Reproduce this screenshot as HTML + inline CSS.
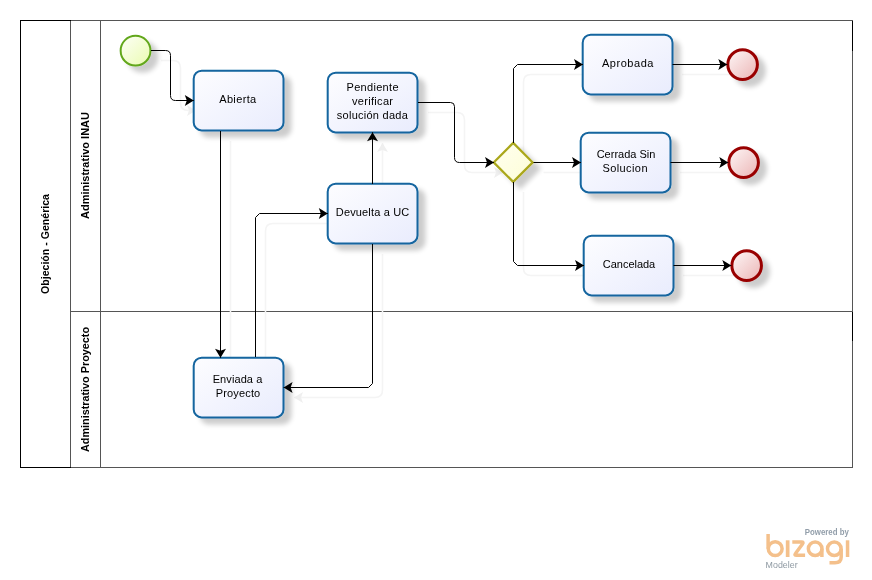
<!DOCTYPE html>
<html>
<head>
<meta charset="utf-8">
<style>
html,body{margin:0;padding:0;background:#fff;width:872px;height:580px;overflow:hidden}
svg{position:absolute;left:0;top:0;display:block;will-change:transform}
text{font-family:"Liberation Sans",sans-serif}
</style>
</head>
<body>
<svg width="872" height="580" viewBox="0 0 872 580">
<defs>
  <linearGradient id="gTask" x1="0" y1="0" x2="1" y2="1">
    <stop offset="0" stop-color="#fdfdff"/>
    <stop offset="1" stop-color="#e9ecfd"/>
  </linearGradient>
  <linearGradient id="gStart" x1="0" y1="0" x2="1" y2="1">
    <stop offset="0" stop-color="#fdfff8"/>
    <stop offset="1" stop-color="#eafbb0"/>
  </linearGradient>
  <linearGradient id="gEnd" x1="0" y1="0" x2="1" y2="1">
    <stop offset="0" stop-color="#fef8f8"/>
    <stop offset="1" stop-color="#ebb4b4"/>
  </linearGradient>
  <linearGradient id="gGw" x1="0" y1="0" x2="1" y2="1">
    <stop offset="0" stop-color="#fffff0"/>
    <stop offset="1" stop-color="#fdfdd6"/>
  </linearGradient>
  <filter id="sh" x="-30%" y="-30%" width="160%" height="160%">
    <feGaussianBlur in="SourceAlpha" stdDeviation="2.6"/>
    <feOffset dx="6.5" dy="6" result="b"/>
    <feComponentTransfer><feFuncA type="linear" slope="0.2"/></feComponentTransfer>
    <feMerge><feMergeNode/><feMergeNode in="SourceGraphic"/></feMerge>
  </filter>
  <marker id="ar" viewBox="0 0 10 12" refX="9.5" refY="6" markerWidth="10" markerHeight="12" markerUnits="userSpaceOnUse" orient="auto">
    <path d="M0.5,0.5 L9.5,6 L0.5,11.5 L2.5,6 Z" fill="#000"/>
  </marker>
  <marker id="arS" viewBox="0 0 10 12" refX="9.5" refY="6" markerWidth="10" markerHeight="12" markerUnits="userSpaceOnUse" orient="auto">
    <path d="M0.5,0.5 L9.5,6 L0.5,11.5 L2.5,6 Z" fill="#efefef"/>
  </marker>
</defs>

<!-- POOL -->
<g fill="none" stroke-width="1" shape-rendering="crispEdges">
  <path d="M70.5,20.5 H852.5 V467.5 H70.5" stroke="#555"/>
  <path d="M70.5,20.5 V467.5 M100.5,20.5 V467.5 M70.5,311.5 H852.5" stroke="#555"/>
  <path d="M70.5,20.5 H20.5 V467.5 H70.5" stroke="#000"/>
  <path d="M852.5,20.5 V51 M852.5,311.5 V341" stroke="#000"/>
</g>
<g font-weight="bold" font-size="11" fill="#000">
  <text transform="translate(49,294) rotate(-90)" textLength="100" lengthAdjust="spacingAndGlyphs">Objeción - Genérica</text>
  <text transform="translate(89,219) rotate(-90)" textLength="107" lengthAdjust="spacingAndGlyphs">Administrativo INAU</text>
  <text transform="translate(89,452) rotate(-90)" textLength="125" lengthAdjust="spacingAndGlyphs">Administrativo Proyecto</text>
</g>

<!-- CONNECTOR SHADOWS -->
<g fill="none" stroke="#f4f4f4" stroke-width="1.6" stroke-linejoin="round">
  <path d="M161,60.5 H173 Q180.5,60.5 180.5,68 V103 Q180.5,110.5 188,110.5 H196" marker-end="url(#arS)"/>
  <path d="M230.5,141 V367" />
  <path d="M265.5,367 V231 Q265.5,223.5 273,223.5 H337" />
  <path d="M382.5,254 V390 Q382.5,397.5 375,397.5 H294" marker-end="url(#arS)"/>
  <path d="M382.5,194 V143" marker-end="url(#arS)"/>
  <path d="M428,112.5 H457 Q464.5,112.5 464.5,120 V165 Q464.5,172.5 472,172.5 H503" marker-end="url(#arS)"/>
  <path d="M523.5,153 V82 Q523.5,74.5 531,74.5 H592" />
  <path d="M543.5,172.5 H590" />
  <path d="M523.5,192 V268 Q523.5,275.5 531,275.5 H593" />
  <path d="M682,74.5 H737" />
  <path d="M680,172.5 H738" />
  <path d="M683,275.5 H741" />
</g>

<!-- SHAPES -->
<g filter="url(#sh)">
  <circle cx="135.55" cy="50.65" r="14.9" fill="url(#gStart)" stroke="#62a71a" stroke-width="2"/>
  <rect x="193.7" y="70.7" width="89.8" height="59.7" rx="8" fill="url(#gTask)" stroke="#13659f" stroke-width="2"/>
  <rect x="327.7" y="72.7" width="89.8" height="59.7" rx="8" fill="url(#gTask)" stroke="#13659f" stroke-width="2"/>
  <rect x="327.7" y="183.7" width="89.8" height="59.7" rx="8" fill="url(#gTask)" stroke="#13659f" stroke-width="2"/>
  <rect x="193.7" y="357.7" width="89.8" height="59.7" rx="8" fill="url(#gTask)" stroke="#13659f" stroke-width="2"/>
  <rect x="582.7" y="34.7" width="89.8" height="59.7" rx="8" fill="url(#gTask)" stroke="#13659f" stroke-width="2"/>
  <rect x="580.7" y="132.7" width="89.8" height="59.7" rx="8" fill="url(#gTask)" stroke="#13659f" stroke-width="2"/>
  <rect x="583.7" y="235.7" width="89.8" height="59.7" rx="8" fill="url(#gTask)" stroke="#13659f" stroke-width="2"/>
  <path d="M513.2,142.9 L532.7,162.4 L513.2,181.9 L493.7,162.4 Z" fill="url(#gGw)" stroke="#aaa71a" stroke-width="2.2"/>
  <circle cx="742.6" cy="64.6" r="14.8" fill="url(#gEnd)" stroke="#990202" stroke-width="3"/>
  <circle cx="743.6" cy="162.6" r="14.8" fill="url(#gEnd)" stroke="#990202" stroke-width="3"/>
  <circle cx="746.65" cy="265.65" r="14.8" fill="url(#gEnd)" stroke="#990202" stroke-width="3"/>
</g>

<!-- CONNECTORS -->
<g fill="none" stroke="#000" stroke-width="1">
  <path d="M151,50.5 H165.5 Q170.5,50.5 170.5,55.5 V95.5 Q170.5,100.5 175.5,100.5 H193.8" marker-end="url(#ar)"/>
  <path d="M220.5,131 V357.8" marker-end="url(#ar)"/>
  <path d="M255.5,357 V217.5 L259.5,213.5 H327.8" marker-end="url(#ar)"/>
  <path d="M372.5,244 V383.5 L368.5,387.5 H283.6" marker-end="url(#ar)"/>
  <path d="M372.5,184 V132.3" marker-end="url(#ar)"/>
  <path d="M418,102.5 H450.5 Q454.5,102.5 454.5,106.5 V157.5 Q454.5,162.5 459.5,162.5 H494" marker-end="url(#ar)"/>
  <path d="M513.5,143 V68.5 L517.5,64.5 H583" marker-end="url(#ar)"/>
  <path d="M533.5,162.5 H581" marker-end="url(#ar)"/>
  <path d="M513.5,182 V261.5 L517.5,265.5 H584" marker-end="url(#ar)"/>
  <path d="M672.5,64.5 H727.3" marker-end="url(#ar)"/>
  <path d="M670.5,162.5 H728.3" marker-end="url(#ar)"/>
  <path d="M673.5,265.5 H731.3" marker-end="url(#ar)"/>
</g>

<!-- TASK TEXT -->
<g font-size="11" fill="#000" text-anchor="middle">
  <text x="237.7" y="103" textLength="37" lengthAdjust="spacing">Abierta</text>
  <text x="372.5" y="91" textLength="52" lengthAdjust="spacing">Pendiente</text>
  <text x="372.5" y="105" textLength="41" lengthAdjust="spacing">verificar</text>
  <text x="372.3" y="119" textLength="71" lengthAdjust="spacing">solución dada</text>
  <text x="372.5" y="216" textLength="73.4" lengthAdjust="spacing">Devuelta a UC</text>
  <text x="237.5" y="383" textLength="49.6" lengthAdjust="spacing">Enviada a</text>
  <text x="238" y="397" textLength="44.4" lengthAdjust="spacing">Proyecto</text>
  <text x="627.7" y="67" textLength="51.5" lengthAdjust="spacing">Aprobada</text>
  <text x="626" y="158" textLength="58.7" lengthAdjust="spacing">Cerrada Sin</text>
  <text x="625" y="172" textLength="45" lengthAdjust="spacing">Solucion</text>
  <text x="629" y="268" textLength="52.4" lengthAdjust="spacing">Cancelada</text>
</g>

<!-- BIZAGI LOGO -->
<g>
  <text x="804.8" y="535" font-size="8.6" font-weight="bold" fill="#929eaa" textLength="44" lengthAdjust="spacingAndGlyphs">Powered by</text>
  <text x="765.6" y="567.8" font-size="9.6" fill="#8f9aa3" textLength="32" lengthAdjust="spacingAndGlyphs">Modeler</text>
</g>
<g fill="none" stroke="#f4c08b" stroke-width="3.5" stroke-linecap="butt">
  <!-- b -->
  <path d="M768.1,534 V548.7"/>
  <circle cx="775.2" cy="548.7" r="6.9"/>
  <!-- z -->
  <path d="M792.3,542 H801.5 Q804,542 802.5,544 L795.5,553.5 Q794,555.3 796.5,555.3 H805.1"/>
  <!-- a -->
  <circle cx="815.15" cy="548.7" r="6.8"/>
  <path d="M821.9,548.7 V557"/>
  <!-- g -->
  <circle cx="834.3" cy="548.7" r="6.8"/>
  <path d="M841.2,548.7 V557 Q841.2,562.8 835,562.8 H829.5"/>
</g>
<g fill="#f4c08b">
  <rect x="785.8" y="540.3" width="3.7" height="16.7"/>
  <rect x="845.8" y="540.3" width="3.5" height="16.7"/>
</g>
</svg>
</body>
</html>
